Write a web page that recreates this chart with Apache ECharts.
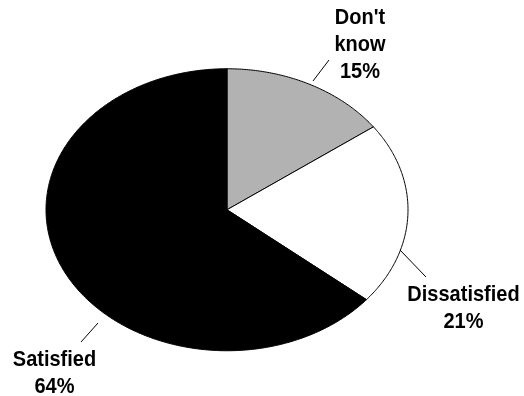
<!DOCTYPE html>
<html>
<head>
<meta charset="utf-8">
<style>
  html, body { margin: 0; padding: 0; background: #fff; }
  #chart { width: 524px; height: 396px; }
</style>
<script src="https://cdn.jsdelivr.net/npm/echarts@6/dist/echarts.min.js"></script>
</head>
<body>
<div id="chart"></div>
<script>
// Survey answers, clockwise from 12 o'clock
const categories = ["Don't\nknow", "Dissatisfied", "Satisfied"];
const shares = [15, 21, 64];
const sliceColors = ['#b2b2b2', '#ffffff', '#000000'];

// Elliptical pie geometry (pixels)
const pie = { cx: 227, cy: 209.75, rx: 181, ry: 141 };
// Label block centres and leader-line ends for each slice
const labelPos = [[360, 45], [463.5, 308], [54.5, 373]];
const leaders = [
  [[313, 81], [329, 60]],
  [[400, 250], [426, 277]],
  [[81, 342], [98, 323]]
];

const total = shares.reduce((a, b) => a + b, 0);
const starts = [];
shares.reduce((acc, v) => { starts.push(acc); return acc + v; }, 0);

function ellipsePoint(theta) {
  return [pie.cx + pie.rx * Math.sin(theta), pie.cy - pie.ry * Math.cos(theta)];
}

function renderSlice(params, api) {
  const i = params.dataIndex;
  const value = api.value(0);
  const a0 = starts[i] / total * Math.PI * 2;
  const a1 = (starts[i] + value) / total * Math.PI * 2;
  const pts = [[pie.cx, pie.cy]];
  const steps = Math.max(8, Math.ceil((a1 - a0) / 0.01));
  for (let k = 0; k <= steps; k++) {
    pts.push(ellipsePoint(a0 + (a1 - a0) * k / steps));
  }
  const pct = Math.round(value / total * 100) + '%';
  return {
    type: 'group',
    children: [
      {
        type: 'polygon',
        shape: { points: pts },
        style: { fill: sliceColors[i], stroke: '#000', lineWidth: 1 }
      },
      {
        type: 'line',
        shape: { x1: leaders[i][0][0], y1: leaders[i][0][1], x2: leaders[i][1][0], y2: leaders[i][1][1] },
        style: { stroke: '#000', lineWidth: 1 }
      },
      {
        type: 'text',
        x: labelPos[i][0],
        y: labelPos[i][1],
        scaleY: 1.1,
        style: {
          text: categories[i] + '\n' + pct,
          fill: '#000',
          font: 'bold 20px "Liberation Sans", Arial, sans-serif',
          lineHeight: 24.5,
          align: 'center',
          verticalAlign: 'middle'
        }
      }
    ]
  };
}

const chart = echarts.init(document.getElementById('chart'), null, { renderer: 'canvas' });
chart.setOption({
  animation: false,
  backgroundColor: '#fff',
  series: [{
    type: 'custom',
    coordinateSystem: 'none',
    renderItem: renderSlice,
    data: shares.map((v, i) => ({ name: categories[i], value: [v] }))
  }]
});
</script>
</body>
</html>
